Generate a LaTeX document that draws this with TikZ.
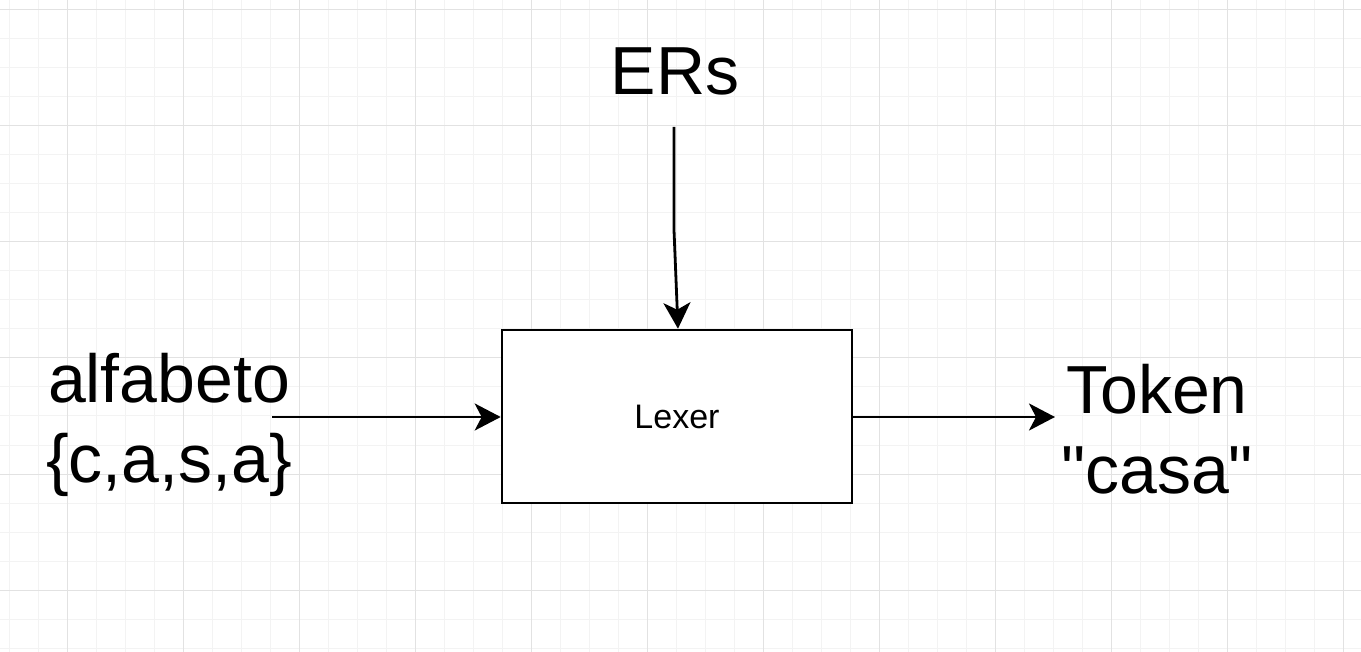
\documentclass[tikz,border=0pt]{standalone}
\usepackage{fontspec}
\setmainfont{Liberation Sans}[Ligatures=TeXOff]
\usetikzlibrary{arrows.meta}
\definecolor{gridminor}{HTML}{F3F3F3}
\definecolor{gridmajor}{HTML}{E2E2E2}
\tikzset{
  bigtext/.style={font=\fontsize{68}{80}\selectfont, inner sep=0pt, align=center},
  boxstyle/.style={draw=black, line width=2.6pt, minimum width=350pt, minimum height=173pt, inner sep=0pt, font=\fontsize{34}{40}\selectfont},
  conn/.style={line width=2.8pt, -{Stealth[length=26pt,width=27pt,inset=7pt]}}
}
\begin{document}
\begin{tikzpicture}[x=1pt,y=-1pt]
\useasboundingbox (0,0) rectangle (1361,652);
\fill[white] (0,0) rectangle (1361,652);
% grid
\foreach \x in {9,38,...,1361} \draw[gridminor, line width=1pt] (\x,0) -- (\x,652);
\foreach \y in {10,39,...,652} \draw[gridminor, line width=1pt] (0,\y) -- (1361,\y);
\foreach \x in {67,183,...,1361} \draw[gridmajor, line width=1pt] (\x,0) -- (\x,652);
\foreach \y in {10,126,...,652} \draw[gridmajor, line width=1pt] (0,\y) -- (1361,\y);
% nodes
\node[boxstyle, fill=white] (lexer) at (677,416.5) {Lexer};
\node[bigtext, anchor=base] (ers) at (675,95) {ERs};
\node[bigtext, anchor=base] (alf) at (169,482) {alfabeto\\\{c,a,s,a\}};
\node[bigtext, anchor=base] (tok) at (1157,493) {Token\\"casa"};
% connector ends
\coordinate (ersout) at (674,127);
\coordinate (ersbend) at (674,230);
\coordinate (alfout) at (272,417);
\coordinate (tokin) at (1055,417);
% connectors
\draw[conn] (ersout) -- (ersbend) -- (lexer.north -| 678,0);
\draw[conn] (alfout) -- (lexer.west |- alfout);
\draw[conn] (lexer.east |- tokin) -- (tokin);
\end{tikzpicture}
\end{document}
